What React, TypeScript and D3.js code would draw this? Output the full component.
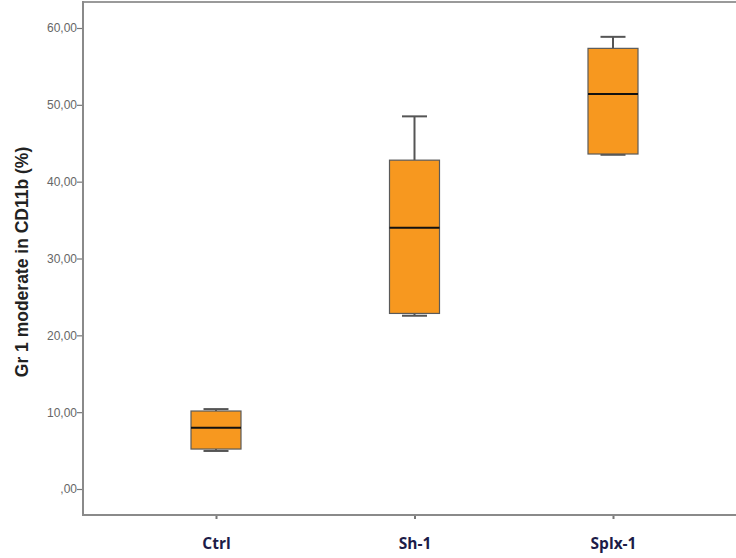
import * as d3 from "d3";
import { useEffect, useRef } from "react";

// groups and box statistics
const groups = ["Ctrl", "Sh-1", "Splx-1"];
const whiskerLow = [4.95, 22.55, 43.5];
const q1 = [5.2, 22.85, 43.6];
const median = [7.98, 34.0, 51.4];
const q3 = [10.15, 42.8, 57.35];
const whiskerHigh = [10.4, 48.5, 58.85];

const yTicks = [0, 10, 20, 30, 40, 50, 60];
const yTickLabels = [",00", "10,00", "20,00", "30,00", "40,00", "50,00", "60,00"];
const yTitle = "Gr 1 moderate in CD11b (%)";

function App() {
  const ref = useRef<SVGSVGElement | null>(null);

  useEffect(() => {
    const width = 736;
    const height = 558;
    const left = 83;
    const top = 2;
    const bottom = 515;

    const svg = d3.select(ref.current);
    svg.selectAll("*").remove();
    svg.attr("width", width).attr("height", height);

    const yScale = d3.scaleLinear().domain([0, 60]).range([489, 28]);
    const xScale = d3.scalePoint().domain(groups).range([216, 613]);

    const boxW = 50;
    const capW = 25;

    // frame
    svg
      .append("line")
      .attr("x1", left)
      .attr("x2", width)
      .attr("y1", top)
      .attr("y2", top)
      .attr("stroke", "#9a9a9a")
      .attr("stroke-width", 2);

    const yAxis = d3
      .axisLeft(yScale)
      .tickValues(yTicks)
      .tickFormat((d, i) => yTickLabels[i])
      .tickSize(6)
      .tickSizeOuter(0);
    const yG = svg.append("g").attr("transform", `translate(${left},0)`).call(yAxis);
    yG.select(".domain").remove();
    yG.selectAll(".tick line").attr("stroke", "#777").attr("stroke-width", 1.2);
    yG
      .selectAll(".tick text")
      .attr("fill", "#666")
      .attr("font-family", "Liberation Sans, Arial, sans-serif")
      .attr("font-size", 12)
      .attr("x", -6);
    svg
      .append("line")
      .attr("x1", left)
      .attr("x2", left)
      .attr("y1", top - 1)
      .attr("y2", bottom + 1)
      .attr("stroke", "#8a8a8a")
      .attr("stroke-width", 2);

    const xAxis = d3.axisBottom(xScale).tickSize(4).tickSizeOuter(0);
    const xG = svg.append("g").attr("transform", `translate(0,${bottom})`).call(xAxis);
    xG.select(".domain").remove();
    xG.selectAll(".tick line").attr("stroke", "#777").attr("stroke-width", 2);
    xG
      .selectAll(".tick text")
      .attr("fill", "#1c1c48")
      .attr("font-family", "Open Sans, Liberation Sans, sans-serif")
      .attr("font-weight", "bold")
      .attr("font-size", 15.5)
      .attr("dy", 0)
      .attr("y", 34);
    svg
      .append("line")
      .attr("x1", left - 1)
      .attr("x2", width)
      .attr("y1", bottom)
      .attr("y2", bottom)
      .attr("stroke", "#8a8a8a")
      .attr("stroke-width", 2);

    // y title
    svg
      .append("text")
      .attr("transform", `translate(28,262) rotate(-90)`)
      .attr("text-anchor", "middle")
      .attr("font-family", "Liberation Sans, Arial, sans-serif")
      .attr("font-weight", "bold")
      .attr("font-size", 17.5)
      .attr("fill", "#222")
      .text(yTitle);

    // boxes
    const boxes = svg
      .append("g")
      .selectAll("g")
      .data(groups)
      .join("g")
      .attr("transform", (d) => `translate(${xScale(d)},0)`);

    boxes
      .append("line")
      .attr("y1", (d, i) => yScale(q3[i]))
      .attr("y2", (d, i) => yScale(whiskerHigh[i]))
      .attr("stroke", "#555")
      .attr("stroke-width", 2);
    boxes
      .append("line")
      .attr("y1", (d, i) => yScale(q1[i]))
      .attr("y2", (d, i) => yScale(whiskerLow[i]))
      .attr("stroke", "#555")
      .attr("stroke-width", 2);
    boxes
      .append("line")
      .attr("x1", -capW / 2)
      .attr("x2", capW / 2)
      .attr("y1", (d, i) => yScale(whiskerHigh[i]))
      .attr("y2", (d, i) => yScale(whiskerHigh[i]))
      .attr("stroke", "#555")
      .attr("stroke-width", 2);
    boxes
      .append("line")
      .attr("x1", -capW / 2)
      .attr("x2", capW / 2)
      .attr("y1", (d, i) => yScale(whiskerLow[i]))
      .attr("y2", (d, i) => yScale(whiskerLow[i]))
      .attr("stroke", "#555")
      .attr("stroke-width", 2);

    boxes
      .append("rect")
      .attr("x", -boxW / 2)
      .attr("width", boxW)
      .attr("y", (d, i) => yScale(q3[i]))
      .attr("height", (d, i) => yScale(q1[i]) - yScale(q3[i]))
      .attr("fill", "#f7981f")
      .attr("stroke", "#5a5a5a")
      .attr("stroke-width", 1.2);

    boxes
      .append("line")
      .attr("x1", -boxW / 2)
      .attr("x2", boxW / 2)
      .attr("y1", (d, i) => yScale(median[i]))
      .attr("y2", (d, i) => yScale(median[i]))
      .attr("stroke", "#111")
      .attr("stroke-width", 2);
  }, []);

  return (
    <div style={{ position: "absolute", left: 0, top: 0, background: "#fff" }}>
      <svg ref={ref} style={{ display: "block" }}></svg>
    </div>
  );
}

export default App;
